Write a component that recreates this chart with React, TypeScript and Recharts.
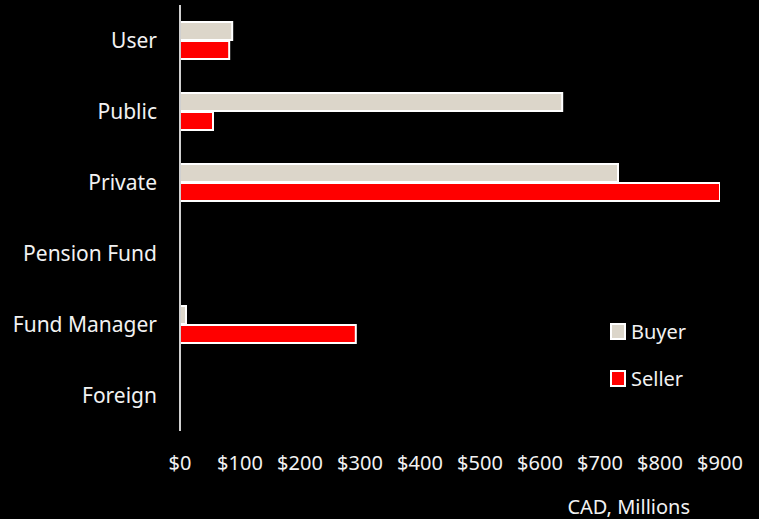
import React from "react";
import {Bar, BarChart, XAxis, YAxis} from "recharts";

const categories = ["User", "Public", "Private", "Pension Fund", "Fund Manager", "Foreign"];
const buyerValues = [87, 637, 730, 0, 10, 0];
const sellerValues = [82, 55, 900, 0, 293, 0];
const xTicks = [0, 100, 200, 300, 400, 500, 600, 700, 800, 900];
const seriesList = [
    {key: "Buyer", color: "#dcd6ca"},
    {key: "Seller", color: "#ff0000"},
];

const data = categories.map((name, i) => ({name, Buyer: buyerValues[i], Seller: sellerValues[i]}));

const FONT = "'Noto Sans', sans-serif";
const TEXT = "#f2f2f2";
const SIZE = 20;

export default function App() {
    return (
        <div style={{position: "absolute", left: 0, top: 0, width: 759, height: 519, background: "#000"}}>
            <BarChart
                width={759}
                height={519}
                data={data}
                layout="vertical"
                margin={{top: 5, right: 39, bottom: 0, left: 0}}
                barSize={18}
                barGap={1}
            >
                <XAxis
                    type="number"
                    domain={[0, 900]}
                    ticks={xTicks}
                    tickFormatter={(v: number) => "$" + v}
                    axisLine={false}
                    tickLine={false}
                    height={88}
                    tickMargin={19}
                    interval={0}
                    allowDataOverflow
                    tick={{fill: TEXT, fontSize: SIZE, fontFamily: FONT}}
                    label={{
                        content: (p: any) => {
                            const vb = p.viewBox;
                            return (
                                <text x={vb.x + vb.width - 30} y={vb.y + 83} textAnchor="end"
                                      fill={TEXT} fontSize={SIZE} fontFamily={FONT}>CAD, Millions</text>
                            );
                        }
                    }}
                />
                <YAxis
                    type="category"
                    dataKey="name"
                    width={180}
                    axisLine={{stroke: "#d0d0d0", strokeWidth: 2}}
                    tickLine={false}
                    tickMargin={17}
                    interval={0}
                    tick={{fill: TEXT, fontSize: 21, fontFamily: FONT}}
                />
                {seriesList.map(s => (
                    <Bar key={s.key} dataKey={s.key} fill={s.color} stroke="#fff" strokeWidth={2}
                         isAnimationActive={false}/>
                ))}
            </BarChart>
            <div style={{position: "absolute", left: 610, top: 318, fontFamily: FONT}}>
                {seriesList.map(s => (
                    <div key={s.key} style={{display: "flex", alignItems: "center", height: 26, marginBottom: 21}}>
                        <span style={{
                            width: 12, height: 13, background: s.color,
                            border: "2px solid #fff", display: "inline-block", marginRight: 5
                        }}/>
                        <span style={{color: TEXT, fontSize: SIZE}}>{s.key}</span>
                    </div>
                ))}
            </div>
        </div>
    );
}
